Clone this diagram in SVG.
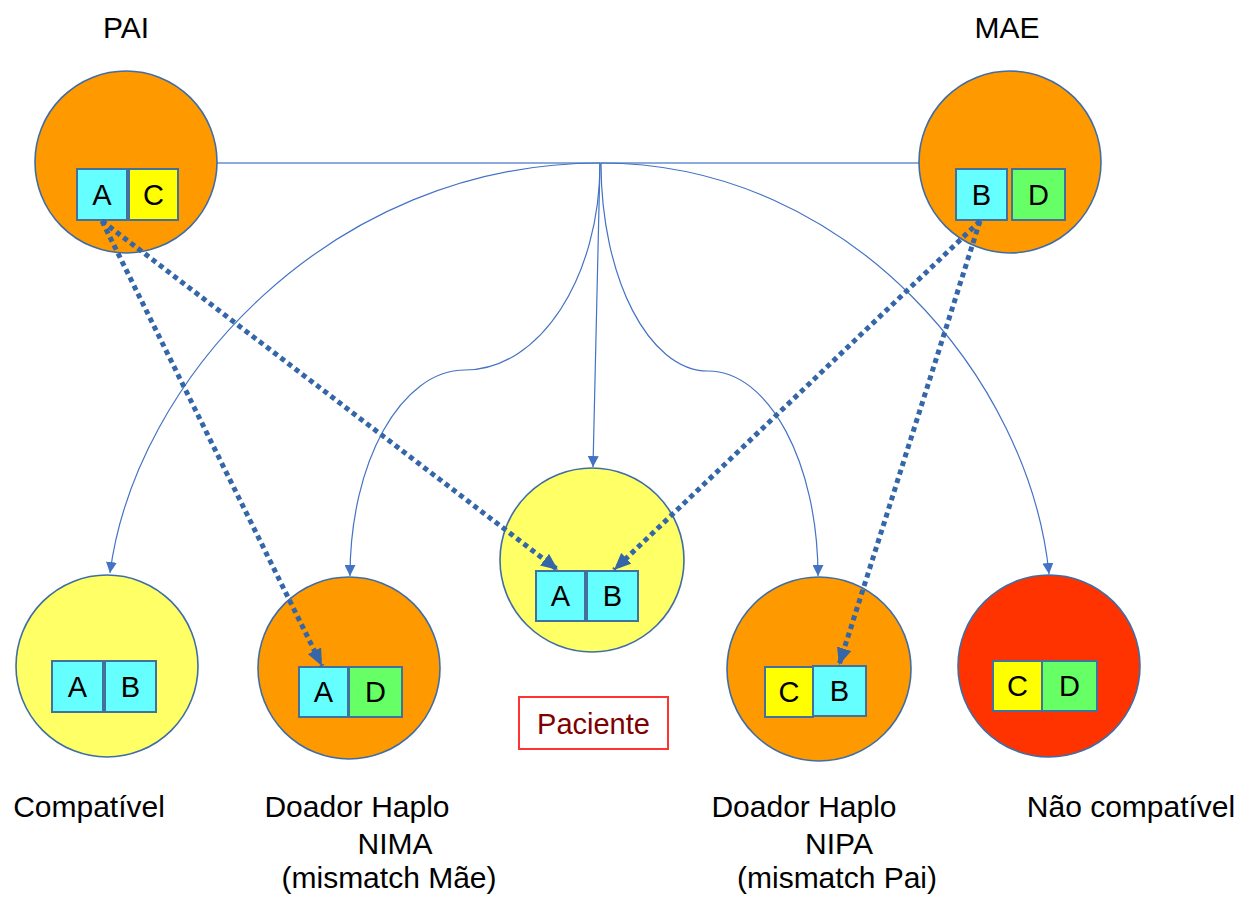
<svg xmlns="http://www.w3.org/2000/svg" width="1254" height="898" viewBox="0 0 1254 898">
<defs>
<style>
.lbl{font-family:"Liberation Sans",Arial,sans-serif;font-size:30px;fill:#000;text-anchor:middle}
.bt{font-family:"Liberation Sans",Arial,sans-serif;font-size:29px;fill:#000;text-anchor:middle}
.circ{stroke:#3F6DA6;stroke-width:1.6}
.box{stroke:#41719C;stroke-width:2}
.cy{fill:#66FFFF}.ye{fill:#FFFF00}.gr{fill:#66FF66}
.conn{fill:none;stroke:#4472C4;stroke-width:1.2}
.dot{fill:none;stroke:#3566A8;stroke-width:5;stroke-dasharray:5 4}
</style>
<marker id="ah" viewBox="0 0 10 10" markerWidth="11" markerHeight="11" refX="10" refY="5" orient="auto" markerUnits="userSpaceOnUse">
<path d="M0,0 L10,5 L0,10 z" fill="#4472C4"/>
</marker>
<marker id="ahd" viewBox="0 0 16 14" markerWidth="17" markerHeight="15" refX="16" refY="7" orient="auto" markerUnits="userSpaceOnUse">
<path d="M0,0 L16,7 L0,14 z" fill="#3566A8"/>
</marker>
</defs>
<rect width="1254" height="898" fill="#fff"/>

<g id="connectors">
<line x1="217" y1="163" x2="919" y2="163" stroke="#8EA9DB" stroke-width="2"/>
<path class="conn" d="M600,163 C330,163 135,380 110,573" marker-end="url(#ah)"/>
<path class="conn" d="M600,163 C600,277 540,370 465,370 C401,370 350,462 350,576" marker-end="url(#ah)"/>
<path class="conn" d="M600,163 L593,467" marker-end="url(#ah)"/>
<path class="conn" d="M601,163 C601,278 649,371 708,371 C769,371 818,463 818,576" marker-end="url(#ah)"/>
<path class="conn" d="M601,163 C850,163 1030,380 1049,574" marker-end="url(#ah)"/>
</g>

<g id="pai">
<text class="lbl" x="126" y="38">PAI</text>
<circle class="circ" cx="126" cy="162" r="91" fill="#FF9900"/>
<rect class="box cy" x="77" y="169" width="50" height="51"/>
<rect class="box ye" x="129" y="169" width="49" height="51"/>
<text class="bt" x="102" y="205">A</text>
<text class="bt" x="153.5" y="205">C</text>
</g>

<g id="mae">
<text class="lbl" x="1007" y="38">MAE</text>
<circle class="circ" cx="1010" cy="162" r="91" fill="#FF9900"/>
<rect class="box cy" x="956" y="169" width="51" height="51"/>
<rect class="box gr" x="1012" y="169" width="53" height="51"/>
<text class="bt" x="981.5" y="205">B</text>
<text class="bt" x="1038.5" y="205">D</text>
</g>

<g id="paciente">
<circle class="circ" cx="592" cy="560" r="92" fill="#FFFF66"/>
<rect class="box cy" x="536" y="571" width="49" height="50"/>
<rect class="box cy" x="587" y="571" width="51" height="50"/>
<text class="bt" x="560.5" y="606">A</text>
<text class="bt" x="612.5" y="606">B</text>
</g>

<g id="paciente-label">
<rect x="519" y="697" width="149" height="52" fill="#fff" stroke="#FF3333" stroke-width="2"/>
<text x="593.5" y="734" font-family="Liberation Sans, Arial, sans-serif" font-size="29" fill="#800000" text-anchor="middle">Paciente</text>
</g>

<g id="compativel">
<circle class="circ" cx="107" cy="666" r="91" fill="#FFFF66"/>
<rect class="box cy" x="52" y="661" width="51" height="51"/>
<rect class="box cy" x="105" y="661" width="51" height="51"/>
<text class="bt" x="77.5" y="697">A</text>
<text class="bt" x="130.5" y="697">B</text>
<text class="lbl" x="89" y="817">Compatível</text>
</g>

<g id="nima">
<circle class="circ" cx="349" cy="668" r="91" fill="#FF9900"/>
<rect class="box cy" x="299" y="667" width="49" height="50"/>
<rect class="box gr" x="349" y="667" width="53" height="50"/>
<text class="bt" x="323.5" y="702">A</text>
<text class="bt" x="375.5" y="702">D</text>
<text class="lbl" x="357" y="817">Doador Haplo</text>
<text class="lbl" x="395" y="854">NIMA</text>
<text class="lbl" x="389" y="888">(mismatch Mãe)</text>
</g>

<g id="nipa">
<circle class="circ" cx="819" cy="669" r="92" fill="#FF9900"/>
<rect class="box ye" x="765" y="667" width="48" height="50"/>
<rect class="box cy" x="813" y="666" width="53" height="50"/>
<text class="bt" x="789" y="702">C</text>
<text class="bt" x="839.5" y="701">B</text>
<text class="lbl" x="804" y="817">Doador Haplo</text>
<text class="lbl" x="839" y="854">NIPA</text>
<text class="lbl" x="837" y="888">(mismatch Pai)</text>
</g>

<g id="nao-compativel">
<circle class="circ" cx="1049" cy="666" r="91" fill="#FF3300"/>
<rect class="box ye" x="993" y="661" width="49" height="50"/>
<rect class="box gr" x="1042" y="661" width="55" height="50"/>
<text class="bt" x="1017.5" y="696">C</text>
<text class="bt" x="1069.5" y="696">D</text>
<text class="lbl" x="1131" y="817">Não compatível</text>
</g>

<g id="inheritance">
<path class="dot" d="M102,221 L558,570" marker-end="url(#ahd)"/>
<path class="dot" d="M102,221 L322,666" marker-end="url(#ahd)"/>
<path class="dot" d="M980,221 L614,570" marker-end="url(#ahd)"/>
<path class="dot" d="M980,221 L839,665" marker-end="url(#ahd)"/>
</g>
</svg>
